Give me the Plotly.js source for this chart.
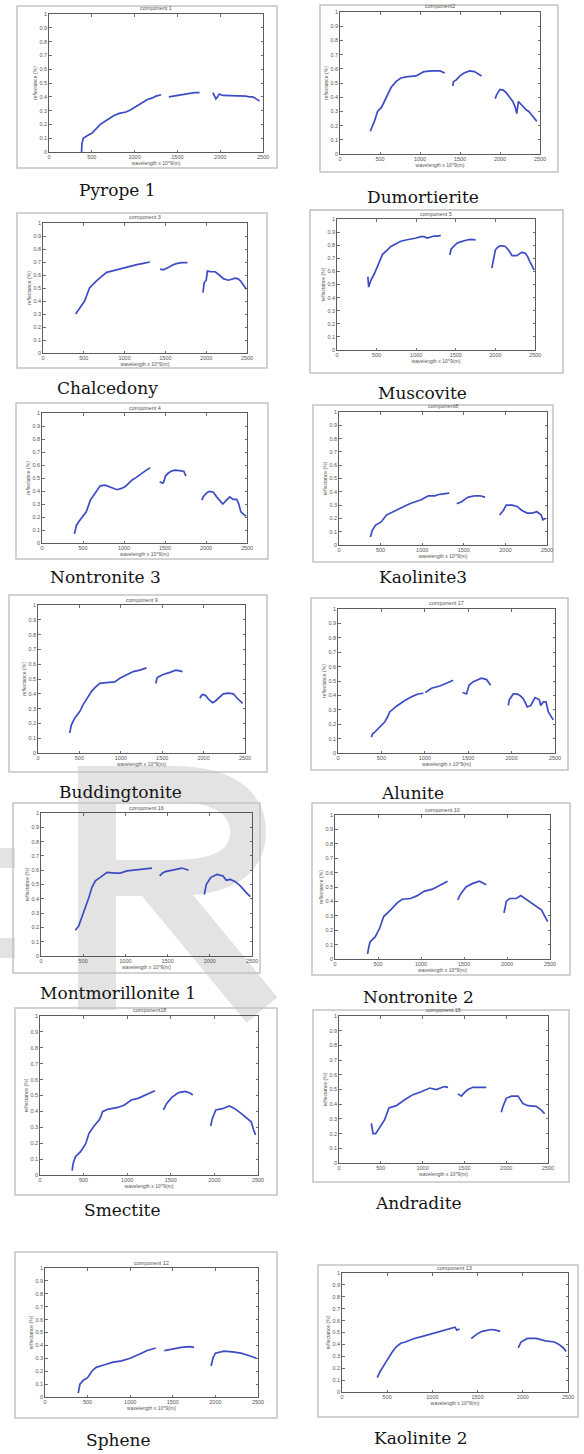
<!DOCTYPE html>
<html>
<head>
<meta charset="utf-8">
<script src="https://cdn.plot.ly/plotly-3.0.1.min.js"></script>
<style>html,body{margin:0;padding:0;background:#fff;}#chart{width:584px;height:1454px;}</style>
</head>
<body>
<div id="chart"></div>
<script>
// ---------- tick definitions ----------
const xTickVals = [0, 500, 1000, 1500, 2000, 2500];
const xTickText = ['0', '500', '1000', '1500', '2000', '2500'];
const yTickVals = [0, 0.1, 0.2, 0.3, 0.4, 0.5, 0.6, 0.7, 0.8, 0.9, 1];
const yTickText = ['0', '0.1', '0.2', '0.3', '0.4', '0.5', '0.6', '0.7', '0.8', '0.9', '1'];

// ---------- mineral names & component titles ----------
const mineralNames = ['Pyrope 1', 'Dumortierite', 'Chalcedony', 'Muscovite', 'Nontronite 3', 'Kaolinite3',
  'Buddingtonite', 'Alunite', 'Montmorillonite 1', 'Nontronite 2', 'Smectite', 'Andradite', 'Sphene', 'Kaolinite 2'];
const componentTitles = ['component 1', 'component2', 'component 3', 'component 5', 'component 4', 'component8',
  'component 9', 'component 17', 'component 16', 'component 10', 'component18', 'component 15', 'component 12', 'component 13'];

// ---------- spectra (wavelength, reflectance); null = gap ----------
const pyrope1Wl = [380,385,400,410,450,500,550,600,660,700,760,820,900,950,1000,1050,1100,1150,1200,1250,1310,null,1400,1450,1500,1550,1600,1650,1700,1760,null,1915,1930,1950,1970,1990,2030,2070,2150,2230,2300,2340,2380,2420,2440,2460];
const pyrope1R  = [0.0,0.06,0.1,0.105,0.12,0.135,0.17,0.2,0.225,0.24,0.265,0.28,0.29,0.305,0.325,0.345,0.365,0.38,0.39,0.405,0.415,null,0.40,0.405,0.41,0.415,0.42,0.425,0.43,0.43,null,0.43,0.41,0.385,0.40,0.42,0.41,0.41,0.405,0.41,0.405,0.40,0.40,0.385,0.375,0.37];

const dumortieriteWl = [380,390,400,430,470,520,580,640,700,760,850,950,1000,1050,1150,1250,1310,null,1410,1420,1450,1500,1550,1620,1680,1740,1770,null,1940,1960,2000,2040,2080,2125,2160,2190,2210,2230,2260,2290,2330,2360,2400,2430,2460];
const dumortieriteR  = [0.16,0.17,0.19,0.23,0.30,0.33,0.40,0.47,0.51,0.535,0.545,0.55,0.565,0.58,0.585,0.585,0.57,null,0.48,0.51,0.52,0.55,0.57,0.585,0.58,0.56,0.55,null,0.39,0.42,0.455,0.45,0.43,0.40,0.37,0.33,0.285,0.37,0.35,0.33,0.31,0.30,0.275,0.25,0.23];

const chalcedonyWl = [400,410,450,510,570,610,655,720,780,840,900,960,1025,1090,1150,1230,1280,1310,null,1435,1475,1540,1600,1650,1700,1770,null,1960,1975,2000,2015,2060,2110,2160,2215,2275,2320,2355,2390,2420,2460,2490];
const chalcedonyR  = [0.30,0.31,0.35,0.40,0.50,0.53,0.555,0.59,0.62,0.63,0.64,0.65,0.665,0.675,0.68,0.69,0.70,0.70,null,0.645,0.64,0.66,0.68,0.69,0.695,0.695,null,0.465,0.54,0.56,0.63,0.625,0.625,0.60,0.57,0.56,0.57,0.575,0.57,0.555,0.52,0.49];

const muscoviteWl = [390,400,415,430,470,515,575,630,680,740,805,870,930,1000,1060,1100,1140,1180,1225,1270,1310,null,1425,1440,1480,1515,1560,1600,1640,1685,1720,1750,null,1955,1975,2000,2030,2060,2090,2125,2170,2210,2270,2300,2330,2375,2405,2435,2465,2490];
const muscoviteR  = [0.56,0.48,0.51,0.535,0.58,0.64,0.73,0.76,0.79,0.81,0.83,0.84,0.845,0.855,0.865,0.865,0.855,0.865,0.87,0.87,0.875,null,0.725,0.77,0.795,0.815,0.825,0.835,0.84,0.845,0.845,0.84,null,0.625,0.70,0.765,0.785,0.795,0.795,0.79,0.76,0.72,0.72,0.73,0.745,0.74,0.715,0.675,0.64,0.61];

const nontronite3Wl = [395,400,420,450,490,540,590,630,670,710,770,835,915,970,1015,1060,1100,1150,1200,1260,1320,null,1435,1460,1475,1490,1505,1545,1585,1625,1665,1700,1730,1755,null,1950,1965,2000,2030,2060,2090,2130,2175,2205,2250,2290,2330,2375,2400,2425,2460,2490];
const nontronite3R  = [0.07,0.09,0.135,0.165,0.2,0.24,0.33,0.37,0.40,0.44,0.445,0.43,0.41,0.42,0.435,0.46,0.485,0.505,0.53,0.555,0.58,null,0.47,0.465,0.46,0.48,0.515,0.54,0.555,0.56,0.56,0.555,0.55,0.515,null,0.33,0.355,0.38,0.395,0.395,0.39,0.355,0.32,0.30,0.33,0.355,0.335,0.335,0.30,0.24,0.22,0.205];

const kaolinite3Wl = [378,385,400,440,510,570,650,710,770,830,890,990,1030,1075,1150,1200,1255,1325,null,1415,1475,1515,1555,1635,1695,1755,null,1930,1975,2010,2080,2140,2200,2260,2320,2380,2430,2450,2480];
const kaolinite3R  = [0.06,0.08,0.11,0.15,0.175,0.225,0.25,0.27,0.29,0.305,0.32,0.34,0.355,0.37,0.37,0.38,0.385,0.39,null,0.31,0.325,0.345,0.36,0.37,0.37,0.36,null,0.225,0.26,0.30,0.30,0.29,0.26,0.24,0.24,0.25,0.225,0.19,0.20];

const buddingtoniteWl = [383,390,403,444,504,544,605,645,685,746,827,927,988,1040,1089,1150,1230,1280,1310,null,1423,1440,1475,1512,1593,1665,1710,1746,null,1955,1975,1996,2030,2056,2109,2140,2177,2238,2300,2359,2407,2440,2472];
const buddingtoniteR  = [0.135,0.16,0.19,0.235,0.28,0.325,0.385,0.415,0.44,0.47,0.475,0.48,0.505,0.52,0.535,0.55,0.56,0.57,0.575,null,0.47,0.51,0.52,0.53,0.545,0.56,0.555,0.55,null,0.37,0.39,0.395,0.385,0.365,0.34,0.35,0.37,0.40,0.405,0.40,0.37,0.35,0.335];

const aluniteWl = [385,400,423,460,538,570,596,673,770,865,923,985,null,1005,1020,1077,1173,1250,1290,1327,null,1435,1480,1495,1510,1558,1610,1654,1712,1758,null,1962,1973,2020,2060,2096,2130,2154,2180,2220,2250,2270,2320,2335,2365,2396,2423,2450,2480];
const aluniteR  = [0.11,0.135,0.145,0.17,0.215,0.25,0.285,0.325,0.365,0.395,0.41,0.415,null,0.42,0.425,0.45,0.465,0.485,0.495,0.505,null,0.42,0.41,0.44,0.47,0.495,0.51,0.52,0.51,0.47,null,0.33,0.37,0.41,0.41,0.40,0.38,0.355,0.32,0.33,0.37,0.385,0.37,0.33,0.355,0.355,0.285,0.255,0.23];

const montmorillonite1Wl = [407,420,446,486,525,565,604,644,703,782,880,940,1019,1080,1137,1200,1256,1315,null,1406,1440,1473,1572,1670,1749,null,1935,1958,1990,2014,2085,2156,2196,2243,2302,2362,2421,2480];
const montmorillonite1R  = [0.18,0.19,0.21,0.275,0.335,0.405,0.48,0.525,0.55,0.585,0.58,0.58,0.595,0.60,0.60,0.61,0.615,0.615,null,0.56,0.58,0.59,0.605,0.615,0.60,null,0.43,0.50,0.53,0.55,0.57,0.56,0.53,0.535,0.52,0.49,0.45,0.415];

const nontronite2Wl = [379,385,395,410,469,520,566,645,723,781,879,957,1035,1133,1211,1260,1309,null,1426,1465,1523,1602,1680,1720,1758,null,1965,1980,1992,2031,2109,2160,2207,2285,2363,2402,2441,2473];
const nontronite2R  = [0.035,0.06,0.09,0.12,0.155,0.215,0.295,0.34,0.39,0.415,0.42,0.44,0.47,0.485,0.51,0.525,0.54,null,0.41,0.455,0.50,0.525,0.54,0.53,0.515,null,0.32,0.37,0.40,0.42,0.42,0.44,0.42,0.39,0.355,0.34,0.295,0.26];

const smectiteWl = [368,380,407,465,523,562,620,678,700,717,775,891,969,1046,1124,1202,1260,1318,null,1415,1453,1512,1589,1667,1725,1752,null,1957,1977,2016,2093,2171,2229,2306,2384,2422,2450,2473];
const smectiteR  = [0.027,0.073,0.115,0.147,0.195,0.262,0.308,0.346,0.37,0.398,0.413,0.425,0.44,0.472,0.482,0.503,0.518,0.53,null,0.409,0.45,0.488,0.518,0.526,0.514,0.503,null,0.308,0.356,0.409,0.417,0.434,0.419,0.388,0.356,0.335,0.283,0.252];

const andraditeWl = [387,395,407,439,486,546,598,686,785,885,985,1085,1164,1224,1260,1304,null,1423,1463,1503,1543,1603,1682,1762,null,1941,1961,2001,2061,2141,2170,2200,2260,2360,2420,2460];
const andraditeR  = [0.27,0.23,0.20,0.20,0.24,0.295,0.375,0.39,0.43,0.465,0.485,0.51,0.50,0.515,0.52,0.515,null,0.47,0.455,0.48,0.50,0.515,0.515,0.515,null,0.345,0.385,0.44,0.455,0.455,0.43,0.405,0.39,0.385,0.36,0.335];

const spheneWl = [390,400,410,450,500,550,600,700,800,900,1000,1100,1200,1300,null,1400,1500,1600,1700,1750,null,1950,1970,2000,2100,2200,2300,2400,2480];
const spheneR  = [0.03,0.07,0.1,0.13,0.15,0.2,0.23,0.25,0.27,0.28,0.30,0.33,0.36,0.38,null,0.36,0.375,0.385,0.39,0.385,null,0.24,0.30,0.34,0.355,0.35,0.34,0.32,0.30];

const kaolinite2Wl = [390,420,460,500,550,600,650,700,800,900,1000,1100,1200,1250,1270,1300,null,1430,1460,1500,1550,1600,1650,1700,1750,null,1950,1980,2050,2150,2200,2250,2350,2400,2450,2480];
const kaolinite2R  = [0.12,0.17,0.22,0.27,0.33,0.38,0.41,0.42,0.45,0.47,0.49,0.51,0.53,0.545,0.52,0.53,null,0.45,0.47,0.49,0.51,0.52,0.525,0.52,0.51,null,0.37,0.42,0.45,0.45,0.44,0.43,0.42,0.40,0.37,0.34];

const spectraWl = [pyrope1Wl, dumortieriteWl, chalcedonyWl, muscoviteWl, nontronite3Wl, kaolinite3Wl,
  buddingtoniteWl, aluniteWl, montmorillonite1Wl, nontronite2Wl, smectiteWl, andraditeWl, spheneWl, kaolinite2Wl];
const spectraR = [pyrope1R, dumortieriteR, chalcedonyR, muscoviteR, nontronite3R, kaolinite3R,
  buddingtoniteR, aluniteR, montmorillonite1R, nontronite2R, smectiteR, andraditeR, spheneR, kaolinite2R];

// ---------- page layout (pixels): frame box, plot box, label centre ----------
const W = 584, H = 1454;
const panelBoxes = [
  {frame:[17,6,277,168],    plot:[49,14,263,152],    label:[117,190]},
  {frame:[320,5,558,172],   plot:[340,12,540,154],   label:[423,197]},
  {frame:[17,213,267,368],  plot:[43,223,247,353],   label:[107,388]},
  {frame:[310,210,563,373], plot:[337,219,535,350],  label:[422,393]},
  {frame:[16,403,268,559],  plot:[42,413,247,543],   label:[105,577]},
  {frame:[313,405,553,562], plot:[339,412,547,545],  label:[423,577]},
  {frame:[9,595,267,772],   plot:[38,605,245,753],   label:[120,792]},
  {frame:[311,598,568,770], plot:[338,609,555,753],  label:[412,793]},
  {frame:[13,803,260,973],  plot:[41,813,252,956],   label:[118,993]},
  {frame:[312,803,570,975], plot:[335,815,550,959],  label:[418,997]},
  {frame:[15,1008,277,1195],plot:[40,1016,258,1175], label:[122,1210]},
  {frame:[313,1010,569,1182],plot:[339,1016,548,1163],label:[418,1203]},
  {frame:[15,1252,277,1418],plot:[45,1268,258,1397], label:[118,1440]},
  {frame:[318,1265,578,1417],plot:[342,1273,568,1392],label:[420,1438]}
];

const px = x => x / W;
const py = y => 1 - y / H;

const traces = [];
const layout = {
  width: W, height: H,
  margin: {l:0, r:0, t:0, b:0},
  paper_bgcolor: '#ffffff',
  plot_bgcolor: 'rgba(0,0,0,0)',
  showlegend: false,
  shapes: [],
  annotations: []
};

const tickFont = {family: 'Liberation Sans, Arial, sans-serif', size: 5.5, color: '#555'};
const smallFont = {family: 'Liberation Sans, Arial, sans-serif', size: 5, color: '#555'};

// ---------- background watermark (drawn as shapes beneath everything) ----------
const wmColor = '#e3e3e3';
function pt(x, y) { return px(x).toFixed(5) + ',' + py(y).toFixed(5); }
layout.shapes.push({type:'rect', xref:'paper', yref:'paper', layer:'below',
  x0:px(78), x1:px(116), y0:py(1010), y1:py(766), line:{width:0}, fillcolor:wmColor});
layout.shapes.push({type:'path', xref:'paper', yref:'paper', layer:'below',
  path:'M' + pt(100,784) + ' L' + pt(172,784) + ' C' + pt(232,784) + ' ' + pt(248,808) + ' ' + pt(248,832) +
       ' C' + pt(248,858) + ' ' + pt(230,878) + ' ' + pt(172,878) + ' L' + pt(100,878),
  line:{color:wmColor, width:36}, fillcolor:'rgba(0,0,0,0)'});
layout.shapes.push({type:'line', xref:'paper', yref:'paper', layer:'below',
  x0:px(158), y0:py(884), x1:px(262), y1:py(1010), line:{color:wmColor, width:40}});
layout.shapes.push({type:'rect', xref:'paper', yref:'paper', x0:0, x1:px(15), y0:py(868), y1:py(848),
  line:{width:0}, fillcolor:wmColor, layer:'below'});
layout.shapes.push({type:'rect', xref:'paper', yref:'paper', x0:0, x1:px(15), y0:py(958), y1:py(938),
  line:{width:0}, fillcolor:wmColor, layer:'below'});

panelBoxes.forEach((b, i) => {
  const n = i + 1;
  const xa = n === 1 ? 'xaxis' : 'xaxis' + n;
  const ya = n === 1 ? 'yaxis' : 'yaxis' + n;
  const xr = n === 1 ? 'x' : 'x' + n;
  const yr = n === 1 ? 'y' : 'y' + n;

  traces.push({
    type:'scatter', mode:'lines', x: spectraWl[i], y: spectraR[i],
    xaxis: xr, yaxis: yr, connectgaps:false, hoverinfo:'skip',
    line:{color:'#3d4cc4', width:1.7}
  });

  const common = {
    showgrid:false, zeroline:false, showline:true, mirror:'ticks',
    linecolor:'#333', linewidth:0.8, ticks:'inside', ticklen:2.5, tickwidth:0.7, tickcolor:'#333',
    tickfont: tickFont, fixedrange:true
  };
  layout[xa] = Object.assign({}, common, {
    domain:[px(b.plot[0]), px(b.plot[2])], range:[0, 2500], anchor: yr,
    tickvals: xTickVals, ticktext: xTickText,
    title:{text:'wavelength x 10^9(m)', font: smallFont, standoff: 1}
  });
  layout[ya] = Object.assign({}, common, {
    domain:[py(b.plot[3]), py(b.plot[1])], range:[0, 1], anchor: xr,
    tickvals: yTickVals, ticktext: yTickText,
    title:{text:'reflectance (%)', font: smallFont, standoff: 1}
  });

  // outer figure frame
  layout.shapes.push({
    type:'rect', xref:'paper', yref:'paper', layer:'below',
    x0: px(b.frame[0]), x1: px(b.frame[2]), y0: py(b.frame[3]), y1: py(b.frame[1]),
    line:{color:'#c4c4c4', width:1.5}, fillcolor:'rgba(0,0,0,0)'
  });

  // component title
  layout.annotations.push({
    xref:'paper', yref:'paper', x: px((b.plot[0] + b.plot[2]) / 2), y: py(b.plot[1] - 0.5),
    xanchor:'center', yanchor:'bottom', text: componentTitles[i], showarrow:false,
    font:{family:'Liberation Sans, Arial, sans-serif', size:5.5, color:'#555'}
  });

  // mineral label
  layout.annotations.push({
    xref:'paper', yref:'paper', x: px(b.label[0]), y: py(b.label[1]),
    xanchor:'center', yanchor:'middle', text: mineralNames[i], showarrow:false,
    font:{family:'DejaVu Serif, serif', size:17, color:'#141414'}
  });
});

// separator line under Dumortierite label
layout.shapes.push({type:'line', xref:'paper', yref:'paper', x0:px(310), x1:px(563), y0:py(210), y1:py(210),
  line:{color:'#c8c8c8', width:1}});

Plotly.newPlot('chart', traces, layout, {staticPlot:true, displayModeBar:false});
</script>
</body>
</html>
